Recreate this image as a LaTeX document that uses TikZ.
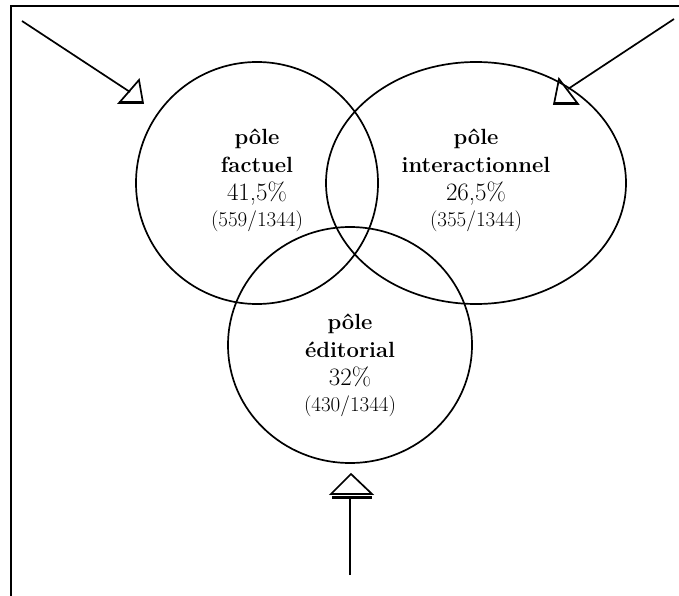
\documentclass[tikz,border=0pt]{standalone}
\usepackage{fontspec}
\usetikzlibrary{shapes.geometric}

\begin{document}
\begin{tikzpicture}[x=1pt,y=-1pt,line width=1.7pt,
	pole/.style={draw,ellipse,inner sep=0pt},
	poletext/.style={align=center,font=\fontsize{22}{28}\selectfont}]

\useasboundingbox (0,0) rectangle (679,596);

% cadre
\draw[line width=2pt] (11,596) -- (11,6) -- (679,6);

% les trois poles
\node[pole,minimum width=242,minimum height=242] (fact)  at (257,183) {};
\node[pole,minimum width=300,minimum height=242] (inter) at (476,183) {};
\node[pole,minimum width=244,minimum height=236] (edit)  at (350,345) {};

\node[poletext] (factT)  at ([yshift=3]fact.center)   {\textbf{pôle}\\\textbf{factuel}\\{\fontsize{25}{28}\selectfont 41,5\%}\\[-2pt]{\fontsize{21}{21}\selectfont (559/1344)}};
\node[poletext] (interT) at ([yshift=3]inter.center)  {\textbf{pôle}\\\textbf{interactionnel}\\{\fontsize{25}{28}\selectfont 26,5\%}\\[-2pt]{\fontsize{21}{21}\selectfont (355/1344)}};
\node[poletext] (editT)  at ([yshift=-20]edit.center) {\textbf{pôle}\\\textbf{éditorial}\\{\fontsize{25}{28}\selectfont 32\%}\\[-2pt]{\fontsize{21}{21}\selectfont (430/1344)}};

% fleches
\coordinate (a1) at (22,21);   \coordinate (b1) at (130,92);
\coordinate (a2) at (674,19);  \coordinate (b2) at (568,89);
\coordinate (a3) at (350,575); \coordinate (b3) at (350,497);

\draw (a1) -- (b1);
\draw (a2) -- (b2);
\draw[line width=2.5pt] (a3) -- (b3);

\draw[line join=miter] (139,80) -- (119,103) -- (143,103) -- cycle;
\draw[line join=miter] (559,79) -- (554,104) -- (578,104) -- cycle;
\draw[line join=miter] (351,474) -- (331,494) -- (372,494) -- cycle;
\draw[line width=3pt] (119,103) -- (143,103);
\draw[line width=3pt] (554,104) -- (578,104);
\draw[line width=3pt] (332,497) -- (372,497);

\end{tikzpicture}
\end{document}
